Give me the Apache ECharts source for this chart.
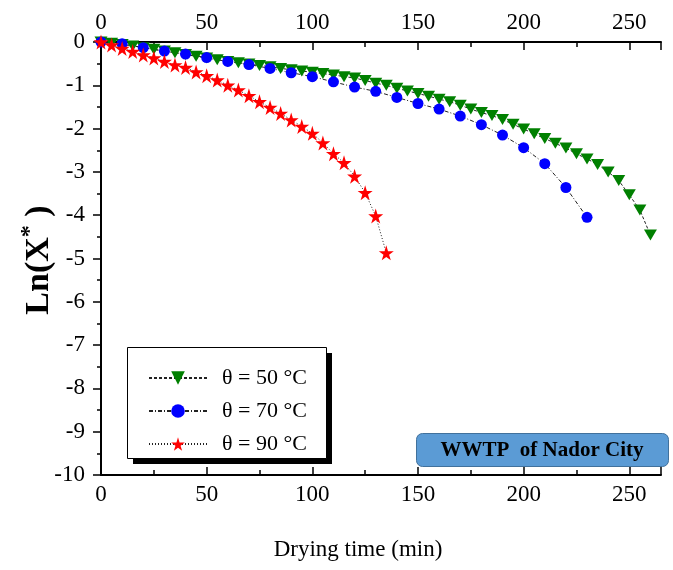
<!DOCTYPE html>
<html>
<head>
<meta charset="utf-8">
<script src="https://cdn.jsdelivr.net/npm/echarts@6/dist/echarts.min.js"></script>
<style>html,body{margin:0;padding:0;background:#fff}#c{width:673px;height:570px}</style>
</head>
<body>
<div id="c"></div>
<script>
// ---- data ----
const seriesNames = ['θ = 50 °C', 'θ = 70 °C', 'θ = 90 °C'];
const time50 = [0,5,10,15,20,25,30,35,40,45,50,55,60,65,70,75,80,85,90,95,100,105,110,115,120,125,130,135,140,145,150,155,160,165,170,175,180,185,190,195,200,205,210,215,220,225,230,235,240,245,250,255,260];
const lnX50 = [0,-0.03,-0.06,-0.09,-0.13,-0.17,-0.21,-0.25,-0.29,-0.33,-0.37,-0.41,-0.45,-0.48,-0.51,-0.54,-0.57,-0.61,-0.64,-0.67,-0.70,-0.73,-0.76,-0.80,-0.83,-0.89,-0.95,-1.00,-1.07,-1.13,-1.19,-1.25,-1.32,-1.38,-1.46,-1.55,-1.63,-1.70,-1.79,-1.90,-2.01,-2.12,-2.23,-2.34,-2.45,-2.58,-2.70,-2.83,-3.00,-3.20,-3.53,-3.88,-4.46];
const time70 = [0,10,20,30,40,50,60,70,80,90,100,110,120,130,140,150,160,170,180,190,200,210,220,230];
const lnX70 = [0,-0.04,-0.13,-0.21,-0.28,-0.36,-0.45,-0.52,-0.61,-0.71,-0.80,-0.92,-1.04,-1.14,-1.28,-1.42,-1.55,-1.71,-1.91,-2.15,-2.44,-2.81,-3.36,-4.05];
const time90 = [0,5,10,15,20,25,30,35,40,45,50,55,60,65,70,75,80,85,90,95,100,105,110,115,120,125,130,135];
const lnX90 = [0,-0.07,-0.15,-0.22,-0.30,-0.37,-0.45,-0.53,-0.59,-0.69,-0.78,-0.88,-1.00,-1.11,-1.24,-1.38,-1.51,-1.65,-1.80,-1.95,-2.11,-2.33,-2.58,-2.79,-3.10,-3.48,-4.02,-4.87];
const xTickMin = 0, xTickMax = 265, xTickStep = 50;
const yTickMin = -10, yTickMax = 0, yTickStep = 1;
const xTitle = 'Drying time (min)';
const annotation = 'WWTP  of Nador City';

const pairs = (xs, ys) => xs.map((x, i) => [x, ys[i]]);
const FONT = 'Liberation Serif';
const TRI = 'path://M0,0 L10,0 L5,9 Z';
const STAR = 'path://M50,0 L61,35 L98,35 L68,57 L79,91 L50,70 L21,91 L32,57 L2,35 L39,35 Z';

const chart = echarts.init(document.getElementById('c'), null, {renderer: 'canvas'});
const axisCommonX = {
  type: 'value', min: xTickMin, max: xTickMax, interval: xTickStep,
  axisLine: {show: true, onZero: false, lineStyle: {color: '#000', width: 2}},
  axisTick: {show: true, inside: true, length: 8, lineStyle: {color: '#000', width: 1.5}},
  minorTick: {show: true, splitNumber: 2, length: 5, lineStyle: {color: '#000', width: 1.5}},
  splitLine: {show: false},
  axisLabel: {fontFamily: FONT, fontSize: 23, color: '#000', margin: 8}
};
chart.setOption({
  animation: false,
  backgroundColor: '#fff',
  grid: {left: 101, right: 12, top: 42, bottom: 95, containLabel: false},
  xAxis: [
    Object.assign({}, axisCommonX, {position: 'bottom'}),
    Object.assign({}, axisCommonX, {position: 'top'})
  ],
  yAxis: {
    type: 'value', min: yTickMin, max: yTickMax, interval: yTickStep,
    axisLine: {show: true, onZero: false, lineStyle: {color: '#000', width: 2}},
    axisTick: {show: true, inside: false, length: 8, lineStyle: {color: '#000', width: 1.5}},
    minorTick: {show: true, splitNumber: 2, length: 4, lineStyle: {color: '#000', width: 1.5}},
    splitLine: {show: false},
    axisLabel: {fontFamily: FONT, fontSize: 23, color: '#000', margin: 16}
  },
  legend: {
    orient: 'vertical', left: 143, top: 362,
    itemWidth: 58, itemHeight: 17, itemGap: 11,
    textStyle: {fontFamily: FONT, fontSize: 22, color: '#000', lineHeight: 22, padding: [0, 0, 0, 10]},
    data: seriesNames, z: 10
  },
  graphic: [
    {type: 'rect', z: 5, shape: {x: 133, y: 353, width: 199, height: 111}, style: {fill: '#000'}},
    {type: 'rect', z: 6, shape: {x: 127.5, y: 347.5, width: 199, height: 111}, style: {fill: '#fff', stroke: '#000', lineWidth: 1}},
    {type: 'rect', z: 5, shape: {x: 416.5, y: 433.5, width: 252, height: 33, r: 6}, style: {fill: '#5B9BD5', stroke: '#41719C', lineWidth: 1}},
    {type: 'text', z: 6, style: {x: 542, y: 451, text: annotation, fontFamily: FONT, fontWeight: 'bold', fontSize: 21, fill: '#000', align: 'center', verticalAlign: 'middle'}},
    {type: 'text', z: 6, style: {x: 358, y: 550, text: xTitle, fontFamily: FONT, fontSize: 23, fill: '#000', align: 'center', verticalAlign: 'middle'}},
    {type: 'text', z: 6, x: 39, y: 260, rotation: Math.PI / 2,
     style: {text: '{a|Ln(X}{s|*}{a| )}', align: 'center', verticalAlign: 'middle',
       rich: {a: {fontFamily: FONT, fontWeight: 'bold', fontSize: 34, fill: '#000'},
              s: {fontFamily: FONT, fontWeight: 'bold', fontSize: 24, fill: '#000', padding: [0, 0, 18, 0]}}}}
  ],
  series: [
    {name: seriesNames[0], type: 'line', data: pairs(time50, lnX50), symbol: TRI, symbolSize: [13, 11],
     itemStyle: {color: '#008000'}, lineStyle: {color: '#222', width: 1, type: [3, 2]}, z: 3},
    {name: seriesNames[1], type: 'line', data: pairs(time70, lnX70), symbol: 'circle', symbolSize: 11,
     itemStyle: {color: '#0000FF'}, lineStyle: {color: '#222', width: 1, type: [4, 2, 1, 2]}, z: 3},
    {name: seriesNames[2], type: 'line', data: pairs(time90, lnX90), symbol: STAR, symbolSize: 15,
     itemStyle: {color: '#FF0000'}, lineStyle: {color: '#222', width: 1, type: [1, 2]}, z: 3}
  ]
});
</script>
</body>
</html>
